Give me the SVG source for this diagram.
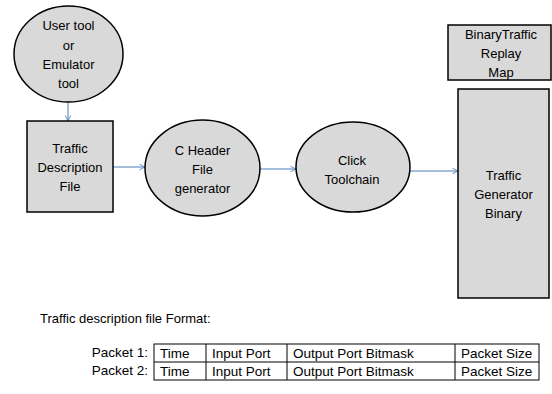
<svg xmlns="http://www.w3.org/2000/svg" width="552" height="394" viewBox="0 0 552 394">
<style>
.shape{fill:#d9d9d9;stroke:#000;stroke-width:1.5}
.t{font-family:"Liberation Sans",Arial,sans-serif;font-size:13px;fill:#000;text-anchor:middle}
.tl{font-family:"Liberation Sans",Arial,sans-serif;font-size:13.5px;fill:#000}
.tr{font-family:"Liberation Sans",Arial,sans-serif;font-size:13.5px;fill:#000;text-anchor:end}
.conn{stroke:#4a7ebb;stroke-width:1;fill:none;marker-end:url(#arr)}
.grid{stroke:#000;stroke-width:1;fill:none}
</style>
<defs>
<marker id="arr" viewBox="0 0 10 10" refX="9" refY="5" markerWidth="7" markerHeight="7" orient="auto" markerUnits="userSpaceOnUse">
<path d="M1,1 L9,5 L1,9" fill="none" stroke="#4a7ebb" stroke-width="1.2"/>
</marker>
</defs>
<g id="connectors">
<line class="conn" x1="68" y1="102" x2="68" y2="121"/>
<line class="conn" x1="113" y1="167" x2="145" y2="167"/>
<line class="conn" x1="260" y1="169" x2="296" y2="169"/>
<line class="conn" x1="410" y1="171" x2="458" y2="171"/>
</g>
<g id="user-tool">
<ellipse class="shape" cx="68.5" cy="54" rx="54.5" ry="48"/>
<text class="t" x="68.5" y="30">User tool</text>
<text class="t" x="68.5" y="50">or</text>
<text class="t" x="68.5" y="69">Emulator</text>
<text class="t" x="68.5" y="88">tool</text>
</g>
<g id="traffic-description-file">
<rect class="shape" x="27" y="121" width="86" height="91"/>
<text class="t" x="70" y="153">Traffic</text>
<text class="t" x="70" y="172">Description</text>
<text class="t" x="70" y="191">File</text>
</g>
<g id="c-header-generator">
<ellipse class="shape" cx="202.5" cy="168" rx="57.5" ry="48"/>
<text class="t" x="202.5" y="155">C Header</text>
<text class="t" x="202.5" y="174">File</text>
<text class="t" x="202.5" y="193">generator</text>
</g>
<g id="click-toolchain">
<ellipse class="shape" cx="353" cy="167" rx="57" ry="45"/>
<text class="t" x="352" y="165">Click</text>
<text class="t" x="352" y="184">Toolchain</text>
</g>
<g id="replay-map">
<rect class="shape" x="448" y="25" width="103" height="55"/>
<text class="t" x="501" y="39">BinaryTraffic</text>
<text class="t" x="501" y="58">Replay</text>
<text class="t" x="501" y="77">Map</text>
</g>
<g id="traffic-generator-binary">
<rect class="shape" x="458" y="89" width="91" height="209"/>
<text class="t" x="503.5" y="180">Traffic</text>
<text class="t" x="503.5" y="199">Generator</text>
<text class="t" x="503.5" y="218">Binary</text>
</g>
<g id="format">
<text class="tl" x="40" y="323" style="font-size:13px">Traffic description file Format:</text>
<text class="tr" x="148" y="357">Packet 1:</text>
<text class="tr" x="148" y="375">Packet 2:</text>
<rect class="grid" x="154" y="344" width="385" height="36"/>
<line class="grid" x1="154" y1="362" x2="539" y2="362"/>
<line class="grid" x1="206" y1="344" x2="206" y2="380"/>
<line class="grid" x1="287" y1="344" x2="287" y2="380"/>
<line class="grid" x1="455" y1="344" x2="455" y2="380"/>
<text class="tl" x="160" y="358">Time</text>
<text class="tl" x="212" y="358">Input Port</text>
<text class="tl" x="293" y="358">Output Port Bitmask</text>
<text class="tl" x="461" y="358">Packet Size</text>
<text class="tl" x="160" y="376">Time</text>
<text class="tl" x="212" y="376">Input Port</text>
<text class="tl" x="293" y="376">Output Port Bitmask</text>
<text class="tl" x="461" y="376">Packet Size</text>
</g>
</svg>
